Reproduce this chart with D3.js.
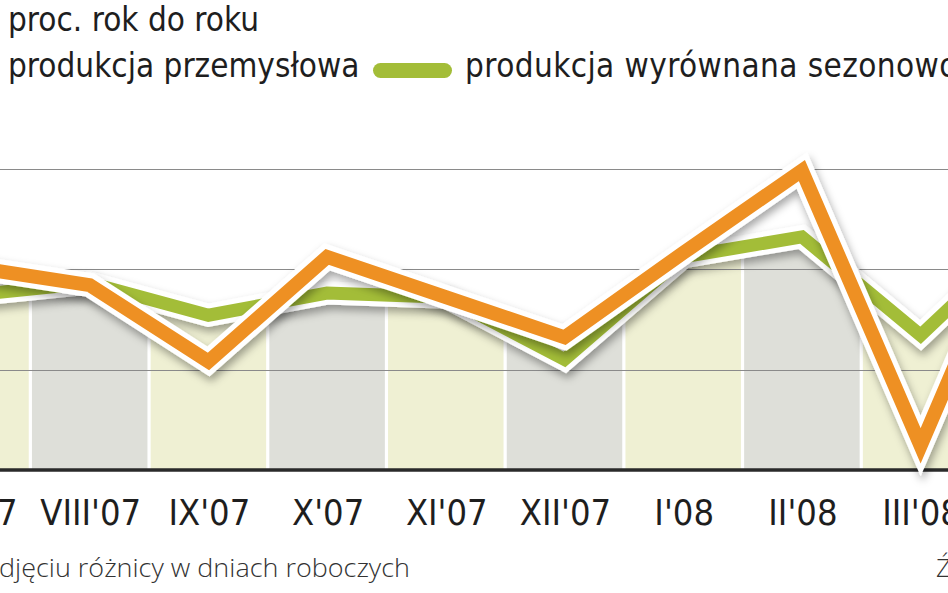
<!DOCTYPE html>
<html>
<head>
<meta charset="utf-8">
<script src="https://cdn.jsdelivr.net/npm/d3@7"></script>
<style>
  html, body { margin: 0; padding: 0; background: #fff; overflow: hidden; }
  svg { display: block; }
</style>
</head>
<body>
<div id="chart"></div>
<script>
// ---- data ----
const months = ["VII'07", "VIII'07", "IX'07", "X'07", "XI'07", "XII'07", "I'08", "II'08", "III'08", "IV'08"];
const production = [10.1, 9.2, 5.4, 10.6, 8.6, 6.6, 10.8, 14.9, 1.2, 15.0];   // produkcja przemysłowa
const seasonal   = [8.7, 9.3, 7.7, 8.8, 8.6, 5.5, 10.6, 11.6, 6.7, 12.3];    // produkcja wyrównana sezonowo
const yTicks = [5, 10, 15];
const titleText = "proc. rok do roku";
const legendLabels = ["produkcja przemysłowa", "produkcja wyrównana sezonowo"];
const footnote = "djęciu różnicy w dniach roboczych";
const sourceText = "Źródło: GUS";

// ---- layout ----
const W = 948, H = 593;
const baseY = 470;
const bandW = 118.7;
const firstCenter = -29;

const svg = d3.select("#chart").append("svg").attr("width", W).attr("height", H);
const defs = svg.append("defs");

const f = defs.append("filter").attr("id", "shadow")
  .attr("x", "-10%").attr("y", "-20%").attr("width", "120%").attr("height", "160%");
f.append("feDropShadow").attr("dx", 2).attr("dy", 5).attr("stdDeviation", 4)
  .attr("flood-color", "#000").attr("flood-opacity", 0.35);

const x = d3.scaleBand().domain(months)
  .range([firstCenter - bandW / 2, firstCenter - bandW / 2 + bandW * months.length])
  .padding(0);
const xc = d => x(d) + x.bandwidth() / 2;
const y = d3.scaleLinear().domain([0, 15]).range([baseY, 168.5]);

// clip: area under the seasonally adjusted line
const area = d3.area().x((d, i) => xc(months[i])).y0(baseY).y1(d => y(d));
defs.append("clipPath").attr("id", "under").append("path").attr("d", area(seasonal));

// bands
svg.append("g").attr("clip-path", "url(#under)")
  .selectAll("rect").data(months).join("rect")
  .attr("x", d => x(d) + 1.6)
  .attr("width", x.bandwidth() - 3.2)
  .attr("y", 0)
  .attr("height", baseY)
  .attr("fill", (d, i) => i % 2 === 0 ? "#eff0d3" : "#dedfd9");

// gridlines
svg.append("g").selectAll("line").data(yTicks).join("line")
  .attr("x1", 0).attr("x2", W)
  .attr("y1", d => Math.round(y(d)) + 0.5).attr("y2", d => Math.round(y(d)) + 0.5)
  .attr("stroke", "#8a8a8a").attr("stroke-width", 1);

// baseline axis
svg.append("line").attr("x1", 0).attr("x2", W)
  .attr("y1", baseY).attr("y2", baseY)
  .attr("stroke", "#2a2a2a").attr("stroke-width", 3.5);

const line = d3.line().x((d, i) => xc(months[i])).y(d => y(d));

function drawSeries(data, color, w) {
  const g = svg.append("g");
  g.append("path").attr("d", line(data))
    .attr("fill", "none").attr("stroke", "#fff").attr("stroke-width", w + 10)
    .attr("stroke-linejoin", "miter").attr("stroke-miterlimit", 10)
    .attr("filter", "url(#shadow)");
  g.append("path").attr("d", line(data))
    .attr("fill", "none").attr("stroke", color).attr("stroke-width", w)
    .attr("stroke-linejoin", "miter").attr("stroke-miterlimit", 10);
}
drawSeries(seasonal, "#a3bd38", 13);
drawSeries(production, "#ee9023", 14);

// x labels
svg.append("g").selectAll("text").data(months).join("text")
  .attr("x", d => xc(d) + 1).attr("y", 525)
  .attr("text-anchor", "middle")
  .attr("font-family", "'DejaVu Sans Condensed', 'DejaVu Sans'")
  .attr("font-stretch", "condensed")
  .attr("font-size", 36)
  .attr("fill", "#1e1e1e")
  .text(d => d);

// title + legend
const legFont = "'DejaVu Sans Condensed', 'DejaVu Sans'";
svg.append("text").attr("x", 8).attr("y", 31)
  .attr("font-family", legFont).attr("font-stretch", "condensed")
  .attr("font-size", 33).attr("fill", "#1e1e1e").text(titleText);
svg.append("text").attr("x", 8).attr("y", 77)
  .attr("font-family", legFont).attr("font-stretch", "condensed")
  .attr("font-size", 33).attr("fill", "#1e1e1e").text(legendLabels[0]);
svg.append("rect").attr("x", 373).attr("y", 63).attr("width", 79).attr("height", 15)
  .attr("rx", 7.5).attr("fill", "#a3bd38");
svg.append("text").attr("x", 465).attr("y", 77)
  .attr("font-family", legFont).attr("font-stretch", "condensed")
  .attr("font-size", 33).attr("letter-spacing", 0.4).attr("fill", "#1e1e1e").text(legendLabels[1]);

// footnote + source
svg.append("text").attr("x", -1).attr("y", 577)
  .attr("font-family", "'Open Sans'").attr("font-weight", 300)
  .attr("font-size", 26).attr("textLength", 411).attr("lengthAdjust", "spacingAndGlyphs")
  .attr("fill", "#333").text(footnote);
svg.append("text").attr("x", 936).attr("y", 577)
  .attr("font-family", "'Open Sans'").attr("font-weight", 300)
  .attr("font-size", 26).attr("fill", "#333").text(sourceText);
</script>
</body>
</html>
